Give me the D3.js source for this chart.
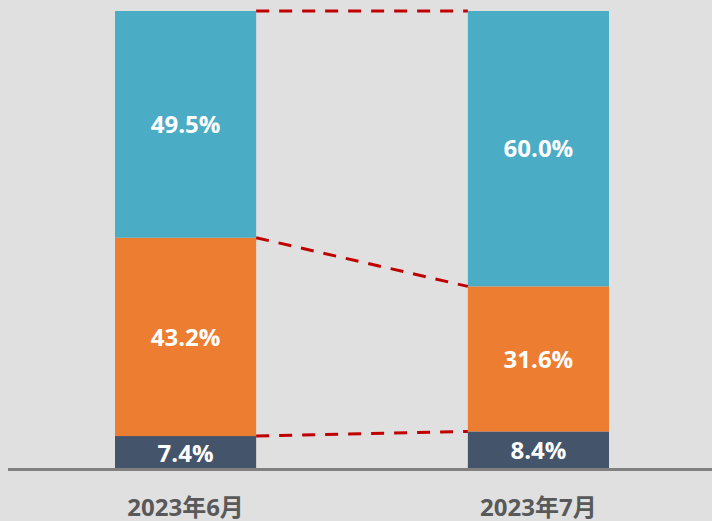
<!DOCTYPE html>
<html>
<head>
<meta charset="utf-8">
<script src="https://cdn.jsdelivr.net/npm/d3@7"></script>
<style>
  html, body { margin: 0; padding: 0; background: #e0e0e0; }
  svg { display: block; font-family: "Open Sans", "Noto Sans CJK SC", sans-serif; }
</style>
</head>
<body>
<div id="chart"></div>
<script>
const categories = ['2023年6月', '2023年7月'];
const seriesNames = ['bottom', 'middle', 'top'];
const bottomVals = [7.4, 8.4];
const middleVals = [43.2, 31.6];
const topVals = [49.5, 60.0];
const colors = ['#44546a', '#ed7d31', '#4bacc6'];

const width = 712, height = 521;
const margin = {top: 11, right: 0, bottom: 51, left: 8};

const rows = categories.map((c, i) => ({
  cat: c, bottom: bottomVals[i], middle: middleVals[i], top: topVals[i]
}));

const stack = d3.stack().keys(seriesNames);
const series = stack(rows);

const x = d3.scaleBand()
  .domain(categories)
  .range([115, 609])
  .paddingInner(0.6)
  .paddingOuter(0);

const y = d3.scaleLinear()
  .domain([0, 100])
  .range([height - margin.bottom, margin.top]);

const svg = d3.select('#chart').append('svg')
  .attr('width', width)
  .attr('height', height);

svg.append('rect')
  .attr('width', width).attr('height', height)
  .attr('fill', '#e0e0e0');

// bars
const layer = svg.selectAll('g.layer')
  .data(series)
  .enter().append('g')
  .attr('class', 'layer')
  .attr('fill', (d, i) => colors[i]);

layer.selectAll('rect')
  .data(d => d)
  .enter().append('rect')
    .attr('x', d => x(d.data.cat))
    .attr('width', x.bandwidth())
    .attr('y', d => y(Math.min(d[1], 100)))
    .attr('height', d => y(d[0]) - y(Math.min(d[1], 100)));

// value labels
layer.selectAll('text')
  .data(d => d.map(v => Object.assign({}, v, {key: d.key})))
  .enter().append('text')
    .attr('x', d => x(d.data.cat) + x.bandwidth() / 2)
    .attr('y', d => (y(d[0]) + y(Math.min(d[1], 100))) / 2)
    .attr('dy', '0.36em')
    .attr('text-anchor', 'middle')
    .attr('fill', '#fff')
    .style('font-size', '24px')
    .style('font-weight', 700)
    .text(d => d.data[d.key].toFixed(1) + '%');

// connector lines
const x0 = x(categories[0]) + x.bandwidth();
const x1 = x(categories[1]);
series.forEach(s => {
  svg.append('line')
    .attr('x1', x0)
    .attr('x2', x1)
    .attr('y1', y(Math.min(s[0][1], 100)))
    .attr('y2', y(Math.min(s[1][1], 100)))
    .attr('stroke', '#c00000')
    .attr('stroke-width', 3)
    .attr('stroke-dasharray', '13,10');
});

// baseline
svg.append('line')
  .attr('x1', margin.left)
  .attr('x2', width)
  .attr('y1', y(0) - 0.5)
  .attr('y2', y(0) - 0.5)
  .attr('stroke', '#808080')
  .attr('stroke-width', 3);

// category labels
svg.selectAll('text.cat')
  .data(categories)
  .enter().append('text')
    .attr('class', 'cat')
    .attr('x', d => x(d) + x.bandwidth() / 2)
    .attr('y', 516)
    .attr('text-anchor', 'middle')
    .attr('fill', '#595959')
    .style('font-size', '24px')
    .style('font-weight', 700)
    .text(d => d);
</script>
</body>
</html>
